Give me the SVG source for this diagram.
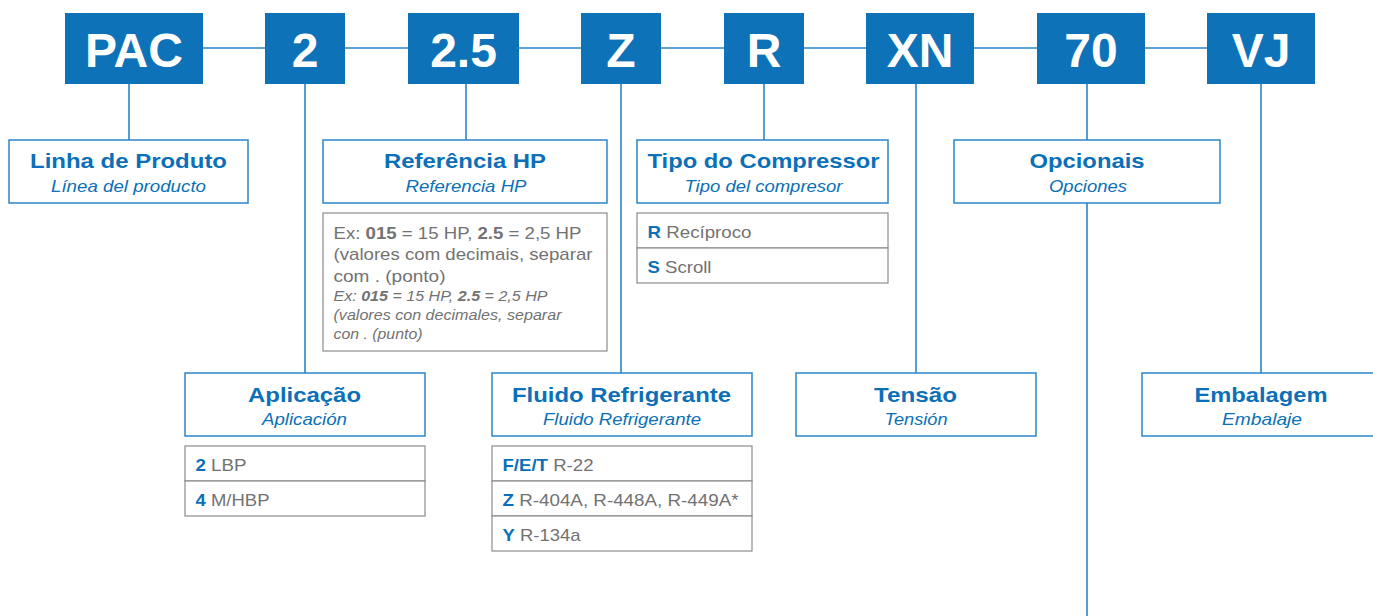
<svg xmlns="http://www.w3.org/2000/svg" width="1373" height="616" viewBox="0 0 1373 616">
<style>
.code{fill:#0e72b9}
.codet{font-family:"Liberation Sans",Arial,sans-serif;font-weight:bold;font-size:48px;fill:#fff;text-anchor:middle}
.lbl{fill:#fff;stroke:#2a86c9;stroke-width:1.5}
.gbox{fill:#fff;stroke:#8c8c8c;stroke-width:1.2}
.t{font-family:"Liberation Sans",Arial,sans-serif;font-weight:bold;font-size:21px;fill:#0b70b8;text-anchor:middle}
.s{font-family:"Liberation Sans",Arial,sans-serif;font-style:italic;font-size:17px;fill:#0b70b8;text-anchor:middle}
.b{font-family:"Liberation Sans",Arial,sans-serif;font-size:17px;fill:#727272}
.bi{font-family:"Liberation Sans",Arial,sans-serif;font-style:italic;font-size:14px;fill:#727272}
.k{font-weight:bold;fill:#0b70b8}
.kb{font-weight:bold}
.conn{stroke:#2a84c7;stroke-width:1.6;fill:none}
</style>
<g id="connectors">
<line class="conn" x1="203" y1="48" x2="1207" y2="48"/>
<line class="conn" x1="129" y1="84" x2="129" y2="140"/>
<line class="conn" x1="305" y1="84" x2="305" y2="373"/>
<line class="conn" x1="466" y1="84" x2="466" y2="140"/>
<line class="conn" x1="621" y1="84" x2="621" y2="373"/>
<line class="conn" x1="764" y1="84" x2="764" y2="140"/>
<line class="conn" x1="916" y1="84" x2="916" y2="373"/>
<line class="conn" x1="1087" y1="84" x2="1087" y2="140"/>
<line class="conn" x1="1087" y1="203" x2="1087" y2="616"/>
<line class="conn" x1="1261" y1="84" x2="1261" y2="373"/>
</g>
<g id="code-PAC"><rect class="code" x="65" y="13" width="138" height="71"/><text class="codet" x="134" y="66.5">PAC</text></g>
<g id="code-2"><rect class="code" x="265" y="13" width="80" height="71"/><text class="codet" x="305" y="66.5">2</text></g>
<g id="code-2_5"><rect class="code" x="408" y="13" width="111" height="71"/><text class="codet" x="463.5" y="66.5">2.5</text></g>
<g id="code-Z"><rect class="code" x="581" y="13" width="80" height="71"/><text class="codet" x="621" y="66.5">Z</text></g>
<g id="code-R"><rect class="code" x="724" y="13" width="80" height="71"/><text class="codet" x="764" y="66.5">R</text></g>
<g id="code-XN"><rect class="code" x="866" y="13" width="108" height="71"/><text class="codet" x="920" y="66.5">XN</text></g>
<g id="code-70"><rect class="code" x="1037" y="13" width="108" height="71"/><text class="codet" x="1091" y="66.5">70</text></g>
<g id="code-VJ"><rect class="code" x="1207" y="13" width="108" height="71"/><text class="codet" x="1261" y="66.5">VJ</text></g>

<g id="linha-produto"><rect class="lbl" x="9" y="140" width="239" height="63"/>
<text class="t" x="128.5" y="167.5" textLength="197" lengthAdjust="spacingAndGlyphs">Linha de Produto</text>
<text class="s" x="128.5" y="192" textLength="155" lengthAdjust="spacingAndGlyphs">Línea del producto</text></g>

<g id="referencia-hp"><rect class="lbl" x="323" y="140" width="284" height="63"/>
<text class="t" x="465" y="167.5" textLength="162" lengthAdjust="spacingAndGlyphs">Referência HP</text>
<text class="s" x="466" y="192" textLength="121" lengthAdjust="spacingAndGlyphs">Referencia HP</text>
<rect class="gbox" x="323" y="213" width="284" height="138"/>
<text class="b" x="333.5" y="238.5" textLength="248" lengthAdjust="spacingAndGlyphs">Ex: <tspan class="kb">015</tspan> = 15 HP, <tspan class="kb">2.5</tspan> = 2,5 HP</text>
<text class="b" x="333.5" y="260" textLength="259" lengthAdjust="spacingAndGlyphs">(valores com decimais, separar</text>
<text class="b" x="333.5" y="281.5" textLength="112" lengthAdjust="spacingAndGlyphs">com . (ponto)</text>
<text class="bi" x="333.5" y="301" textLength="214" lengthAdjust="spacingAndGlyphs">Ex: <tspan class="kb">015</tspan> = 15 HP, <tspan class="kb">2.5</tspan> = 2,5 HP</text>
<text class="bi" x="333.5" y="320" textLength="228" lengthAdjust="spacingAndGlyphs">(valores con decimales, separar</text>
<text class="bi" x="333.5" y="339" textLength="89" lengthAdjust="spacingAndGlyphs">con . (punto)</text></g>

<g id="tipo-compressor"><rect class="lbl" x="637" y="140" width="251" height="63"/>
<text class="t" x="763.5" y="167.5" textLength="232" lengthAdjust="spacingAndGlyphs">Tipo do Compressor</text>
<text class="s" x="763.5" y="192" textLength="158" lengthAdjust="spacingAndGlyphs">Tipo del compresor</text>
<rect class="gbox" x="637" y="213" width="251" height="35"/>
<rect class="gbox" x="637" y="248" width="251" height="35"/>
<text class="b" x="647.5" y="237.5" textLength="104" lengthAdjust="spacingAndGlyphs"><tspan class="k">R</tspan> Recíproco</text>
<text class="b" x="647.5" y="272.5" textLength="64" lengthAdjust="spacingAndGlyphs"><tspan class="k">S</tspan> Scroll</text></g>

<g id="opcionais"><rect class="lbl" x="954" y="140" width="266" height="63"/>
<text class="t" x="1087" y="167.5" textLength="115" lengthAdjust="spacingAndGlyphs">Opcionais</text>
<text class="s" x="1088" y="192" textLength="78" lengthAdjust="spacingAndGlyphs">Opciones</text></g>

<g id="aplicacao"><rect class="lbl" x="185" y="373" width="240" height="63"/>
<text class="t" x="304.5" y="402" textLength="113" lengthAdjust="spacingAndGlyphs">Aplicação</text>
<text class="s" x="304.5" y="425" textLength="85" lengthAdjust="spacingAndGlyphs">Aplicación</text>
<rect class="gbox" x="185" y="446" width="240" height="35"/>
<rect class="gbox" x="185" y="481" width="240" height="35"/>
<text class="b" x="195.5" y="471" textLength="51" lengthAdjust="spacingAndGlyphs"><tspan class="k">2</tspan> LBP</text>
<text class="b" x="195.5" y="505.5" textLength="74" lengthAdjust="spacingAndGlyphs"><tspan class="k">4</tspan> M/HBP</text></g>

<g id="fluido-refrigerante"><rect class="lbl" x="492" y="373" width="260" height="63"/>
<text class="t" x="621.5" y="402" textLength="219" lengthAdjust="spacingAndGlyphs">Fluido Refrigerante</text>
<text class="s" x="622" y="425" textLength="158" lengthAdjust="spacingAndGlyphs">Fluido Refrigerante</text>
<rect class="gbox" x="492" y="446" width="260" height="35"/>
<rect class="gbox" x="492" y="481" width="260" height="35"/>
<rect class="gbox" x="492" y="516" width="260" height="35"/>
<text class="b" x="502.5" y="471" textLength="91" lengthAdjust="spacingAndGlyphs"><tspan class="k">F/E/T</tspan> R-22</text>
<text class="b" x="502.5" y="505.5" textLength="236" lengthAdjust="spacingAndGlyphs"><tspan class="k">Z</tspan> R-404A, R-448A, R-449A*</text>
<text class="b" x="502.5" y="540.5" textLength="78" lengthAdjust="spacingAndGlyphs"><tspan class="k">Y</tspan> R-134a</text></g>

<g id="tensao"><rect class="lbl" x="796" y="373" width="240" height="63"/>
<text class="t" x="915.5" y="402" textLength="83" lengthAdjust="spacingAndGlyphs">Tensão</text>
<text class="s" x="916" y="425" textLength="63" lengthAdjust="spacingAndGlyphs">Tensión</text></g>

<g id="embalagem"><rect class="lbl" x="1142" y="373" width="240" height="63"/>
<text class="t" x="1261" y="402" textLength="133" lengthAdjust="spacingAndGlyphs">Embalagem</text>
<text class="s" x="1262" y="425" textLength="80" lengthAdjust="spacingAndGlyphs">Embalaje</text></g>
</svg>
